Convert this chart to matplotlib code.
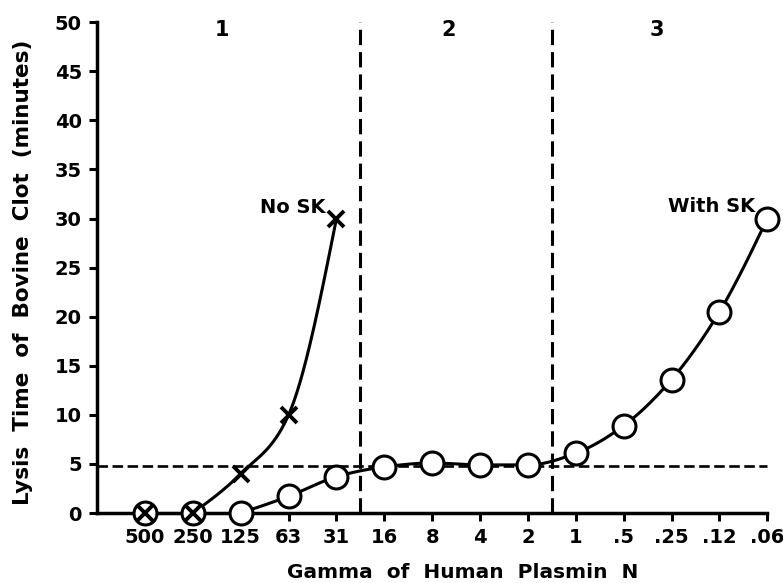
import numpy as np
import matplotlib
matplotlib.use("Agg")
import matplotlib.pyplot as plt

# ---- data ----
dose_labels = ["500", "250", "125", "63", "31", "16", "8", "4", "2", "1", ".5", ".25", ".12", ".06"]
no_sk_values = [0, 0, 4, 10, 30]              # at 500 .. 31
with_sk_values = [0, 0, 0, 1.7, 3.7, 4.7, 5.1, 4.9, 4.9, 6.1, 8.9, 13.6, 20.5, 30]
region_labels = ["1", "2", "3"]
region_bounds = [4.5, 8.5]                     # between 31|16 and 2|1
threshold = 4.8

plt.rcParams['font.family'] = ['DejaVu Sans']
plt.rcParams['font.weight'] = 'bold'


def smooth_curve(x, y, xs):
    """Shape-preserving cubic Hermite curve through the points
    (geometric-mean tangents, natural end conditions)."""
    x = np.asarray(x, float); y = np.asarray(y, float)
    n = len(x); h = np.diff(x); d = np.diff(y) / h
    m = np.zeros(n)
    for k in range(1, n - 1):
        if d[k - 1] * d[k] > 0:
            m[k] = np.sign(d[k]) * np.sqrt(d[k - 1] * d[k])
    m[0] = 1.5 * d[0] - 0.5 * m[1]
    m[-1] = 1.5 * d[-1] - 0.5 * m[-2]
    out = np.empty_like(xs)
    for j, xv in enumerate(xs):
        k = min(max(np.searchsorted(x, xv) - 1, 0), n - 2)
        t = (xv - x[k]) / h[k]
        h00 = 2*t**3 - 3*t**2 + 1; h10 = t**3 - 2*t**2 + t
        h01 = -2*t**3 + 3*t**2; h11 = t**3 - t**2
        out[j] = h00*y[k] + h10*h[k]*m[k] + h01*y[k+1] + h11*h[k]*m[k+1]
    return out


fig = plt.figure(figsize=(7.83, 5.83), dpi=100)
ax = fig.add_axes([0.124, 0.120, 0.856, 0.842])

xi = np.arange(len(dose_labels))
xn = np.arange(len(no_sk_values))

lw = 2.2
# No SK curve
ax.plot(xn[:2], no_sk_values[:2], color='black', lw=lw)
xs = np.linspace(1, len(no_sk_values) - 1, 200)
ax.plot(xs, smooth_curve(xn[1:], no_sk_values[1:], xs), color='black', lw=lw)
# With SK curve
ax.plot(xi[:3], with_sk_values[:3], color='black', lw=lw)
xs2 = np.linspace(2, len(dose_labels) - 1, 400)
ax.plot(xs2, smooth_curve(xi[2:], with_sk_values[2:], xs2), color='black', lw=lw)

ax.plot(xi, with_sk_values, 'o', ms=16.5, mfc='white', mec='black', mew=2.2, zorder=5)
ax.plot(xn, no_sk_values, 'x', ms=12, mec='black', mew=2.8, zorder=6)

# dashed guides
for b in region_bounds:
    ax.plot([b, b], [0, 50], color='black', lw=2.2, ls=(0, (5, 2.3)))
ax.plot([-1, 13], [threshold, threshold], color='black', lw=1.9, ls=(0, (4, 1.7)))

for lab, xc in zip(region_labels, [1.6, 6.35, 10.7]):
    ax.text(xc, 49.2, lab, ha='center', va='center', fontsize=15, fontweight='bold')

ax.text(3.77, 31.1, "No SK", ha='right', va='center', fontsize=14, fontweight='bold')
ax.text(12.74, 31.2, "With SK", ha='right', va='center', fontsize=14, fontweight='bold')

ax.set_xlim(-1, 13)
ax.set_ylim(0, 50)
ax.set_xticks(xi)
ax.set_xticklabels(dose_labels)
ax.set_yticks(np.arange(0, 51, 5))
for s in ['top', 'right']:
    ax.spines[s].set_visible(False)
for s in ['left', 'bottom']:
    ax.spines[s].set_linewidth(2.5)
ax.spines['bottom'].set_bounds(-1, 13)
ax.tick_params(axis='both', direction='out', length=6, width=2.2, labelsize=14, pad=5)
for t in ax.get_xticklabels() + ax.get_yticklabels():
    t.set_fontweight('bold')

ax.set_xlabel("Gamma  of  Human  Plasmin  N", fontsize=14.5, fontweight='bold', va='center')
ax.xaxis.set_label_coords(0.546, -0.121)
ax.set_ylabel("Lysis  Time  of  Bovine  Clot  (minutes)", fontsize=15.5, fontweight='bold')
ax.yaxis.set_label_coords(-0.095, 0.49)
for a in ax.lines:
    a.set_clip_on(False)

fig.savefig("out.png", dpi=100)
